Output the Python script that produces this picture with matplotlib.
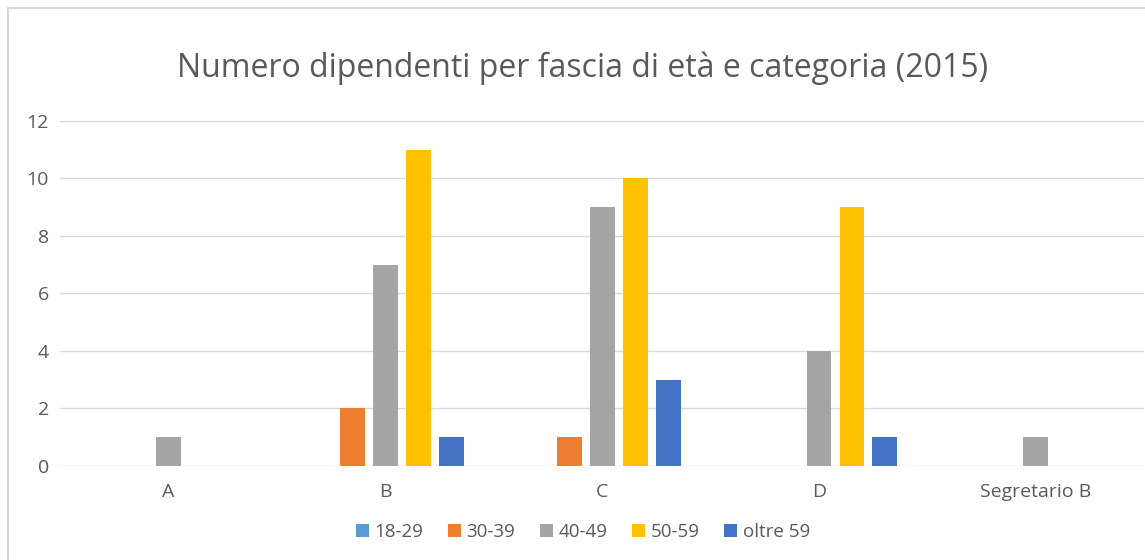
import matplotlib
matplotlib.use("Agg")
import matplotlib.pyplot as plt
import numpy as np
from matplotlib.patches import Rectangle

categories = ["A", "B", "C", "D", "Segretario B"]
series_names = ["18-29", "30-39", "40-49", "50-59", "oltre 59"]
s_18_29 = [0, 0, 0, 0, 0]
s_30_39 = [0, 2, 1, 0, 0]
s_40_49 = [1, 7, 9, 4, 1]
s_50_59 = [0, 11, 10, 9, 0]
s_oltre59 = [0, 1, 3, 1, 0]
yticks = [0, 2, 4, 6, 8, 10, 12]

series = [s_18_29, s_30_39, s_40_49, s_50_59, s_oltre59]
colors = ["#5B9BD5", "#ED7D31", "#A5A5A5", "#FFC000", "#4472C4"]

plt.rcParams['font.family'] = ['Open Sans', 'DejaVu Sans']
fig = plt.figure(figsize=(11.45, 5.6), dpi=100)
ax = fig.add_axes([0.0524, 0.168, 0.947, 0.616])

x = np.arange(len(categories))
step = 0.152
width = 0.115
for i, (name, vals, c) in enumerate(zip(series_names, series, colors)):
    ax.bar(x + (i - 2) * step, vals, width=width, color=c, label=name, zorder=3)

ax.set_xlim(-0.5, len(categories) - 0.5)
ax.set_ylim(0, 12)
ax.set_yticks(yticks)
ax.set_xticks(x)
ax.set_xticklabels(categories)
ax.grid(axis='y', color='#D9D9D9', linewidth=1, zorder=0)
for s in ax.spines.values():
    s.set_visible(False)
ax.tick_params(axis='both', length=0, colors='#595959', labelsize=14)
ax.tick_params(axis='x', pad=12)
ax.tick_params(axis='y', pad=8)

fig.text(0.509, 0.878, "Numero dipendenti per fascia di età e categoria (2015)",
         ha='center', va='center', fontsize=23, color='#595959')

leg = fig.legend(loc='center', bbox_to_anchor=(0.509, 0.05), ncol=5, frameon=False,
                 fontsize=13.5, handlelength=0.7, handleheight=0.7, handletextpad=0.3,
                 columnspacing=1.3, labelcolor='#595959')

fig.patches.append(Rectangle((8/1145, -0.1), 1.2, 1.1 - 8/560, transform=fig.transFigure,
                             fill=False, edgecolor='#D9D9D9', linewidth=1.5))

fig.savefig("out.png", dpi=100)
